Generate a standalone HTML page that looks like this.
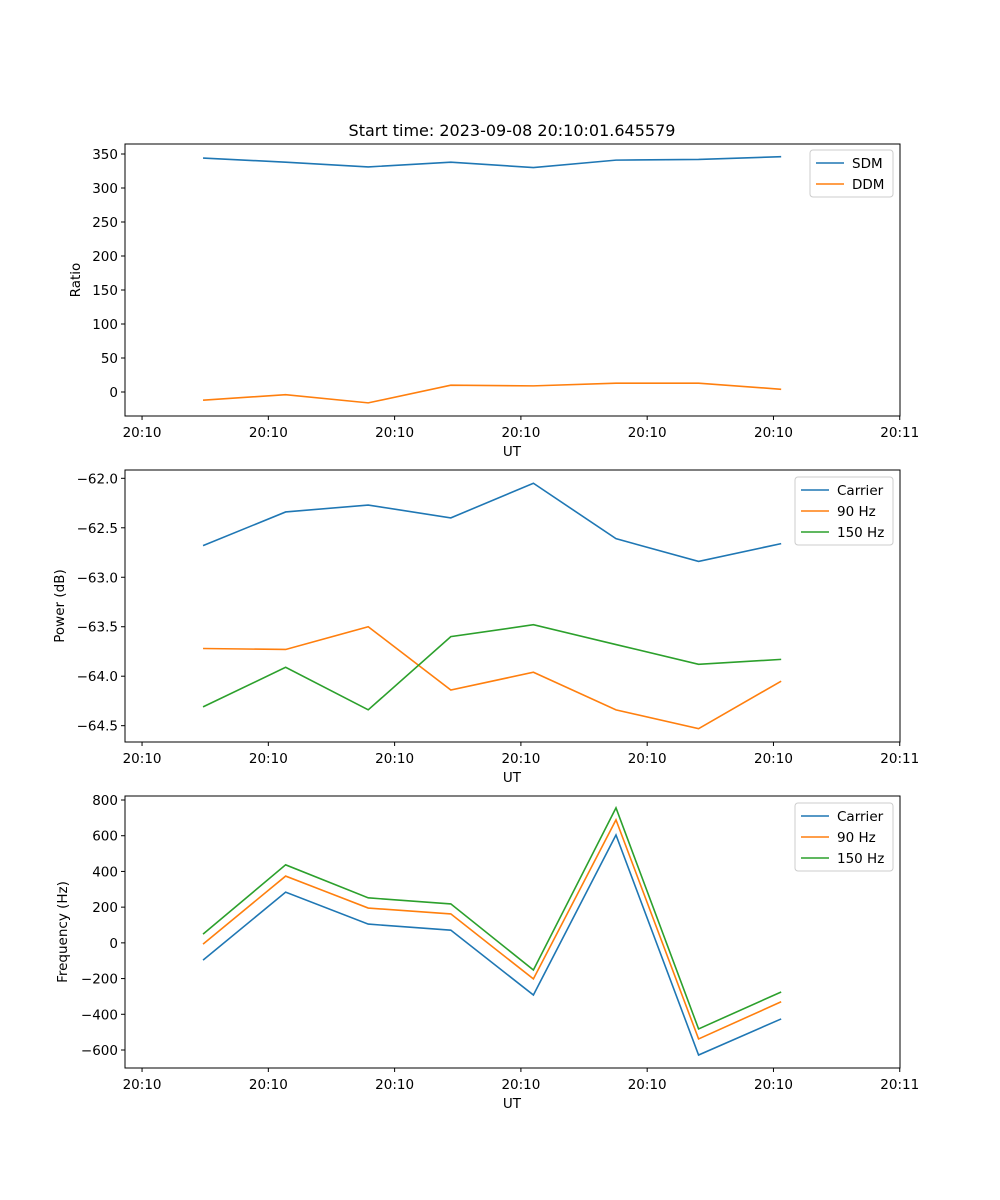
<!DOCTYPE html>
<html><head><meta charset="utf-8"><style>
body{margin:0;background:#fff}
svg{display:block;font-family:"DejaVu Sans","Liberation Sans",sans-serif}
</style></head><body>
<svg id="fig" width="1000" height="1200" viewBox="0 0 1000 1200">
<rect width="1000" height="1200" fill="#fff"/>
<text x="512" y="136" text-anchor="middle" font-size="16">Start time: 2023-09-08 20:10:01.645579</text>
</svg>
<script>
const times=[4.83,11.37,17.91,24.45,30.99,37.53,44.07,50.61];
const xTicks=[0,10,20,30,40,50,60];
const xTickLabels=["20:10","20:10","20:10","20:10","20:10","20:10","20:11"];
const sdm=[344,338,331,338,330,341,342,346];
const ddm=[-12,-4,-16,10,9,13,13,4];
const ratioTicks=[0,50,100,150,200,250,300,350];
const powCarrier=[-62.68,-62.34,-62.27,-62.40,-62.05,-62.61,-62.84,-62.66];
const pow90=[-63.72,-63.73,-63.50,-64.14,-63.96,-64.34,-64.53,-64.05];
const pow150=[-64.31,-63.91,-64.34,-63.60,-63.48,-63.68,-63.88,-63.83];
const powTicks=[-64.5,-64.0,-63.5,-63.0,-62.5,-62.0];
const freqCarrier=[-97,284,105,71,-292,604,-628,-426];
const freq90=[-7,374,195,162,-202,689,-538,-330];
const freq150=[49,437,252,218,-152,756,-482,-275];
const freqTicks=[-600,-400,-200,0,200,400,600,800];

const NS="http://www.w3.org/2000/svg";
const svg=document.getElementById('fig');
const L=125,R=900,X0=-1.35,X1=60.02;
function xs(t){return L+(t-X0)/(X1-X0)*(R-L);}
function mk(tag,attrs,parent){const e=document.createElementNS(NS,tag);for(const k in attrs)e.setAttribute(k,attrs[k]);(parent||svg).appendChild(e);return e;}
const C=["#1f77b4","#ff7f0e","#2ca02c"];

function panel(name,top,bot,y0,y1,ticks,fmt,ylabel,ylx,series,names,legend){
  const g=mk('g',{});
  
  
  const ys=v=>bot-(v-y0)/(y1-y0)*(bot-top);
  ticks.forEach(v=>{const y=ys(v);
    mk('line',{x1:L-4,x2:L,y1:y,y2:y,stroke:'#000','stroke-width':1},g);
    const t=mk('text',{x:L-7,y:y+5,'text-anchor':'end','font-size':13.5},g);t.textContent=fmt(v);
    
    
  });
  xTicks.forEach((v,i)=>{const x=xs(v);
    mk('line',{x1:x,x2:x,y1:bot,y2:bot+4,stroke:'#000','stroke-width':1},g);
    const t=mk('text',{x:x,y:bot+21,'text-anchor':'middle','font-size':13.5},g);t.textContent=xTickLabels[i];
    
    
  });
  const xl=mk('text',{x:512,y:bot+40,'text-anchor':'middle','font-size':13.5},g);xl.textContent='UT';
  
  
  const yc=(top+bot)/2;
  const yl=mk('text',{x:ylx,y:yc,'text-anchor':'middle','font-size':13.5,transform:`rotate(-90 ${ylx} ${yc})`},g);yl.textContent=ylabel;
  
  
  series.forEach((s,i)=>{
    const p=mk('polyline',{points:s.map((v,j)=>xs(times[j])+','+ys(v)).join(' '),fill:'none',stroke:C[i],'stroke-width':1.6},g);
    
    
  });
  mk('rect',{x:L,y:top,width:R-L,height:bot-top,fill:'none',stroke:'#000','stroke-width':1},g);
  const lg=mk('g',{},g);
  
  
  mk('rect',{x:legend[0],y:legend[1],width:R-7-legend[0],height:names.length*21+5,rx:3,fill:'#fff',stroke:'#ccc'},lg);
  names.forEach((n,i)=>{const y=legend[1]+13+i*21;
    mk('line',{x1:legend[0]+6,x2:legend[0]+34,y1:y,y2:y,stroke:C[i],'stroke-width':1.6},lg);
    const t=mk('text',{x:legend[0]+42,y:y+5,'font-size':13.5},lg);t.textContent=n;
    
    
  });
}
const m=v=>(v<0?'\u2212':'')+Math.abs(v);
panel('ratio',144,416,-35.3,364.7,ratioTicks,m,'Ratio',80,[sdm,ddm],['SDM','DDM'],[810,150]);
panel('power',470,742,-64.665,-61.916,powTicks,v=>'\u2212'+Math.abs(v).toFixed(1),'Power (dB)',64,[powCarrier,pow90,pow150],['Carrier','90 Hz','150 Hz'],[795,477]);
panel('frequency',796,1068,-700.8,822.4,freqTicks,m,'Frequency (Hz)',67,[freqCarrier,freq90,freq150],['Carrier','90 Hz','150 Hz'],[795,803]);
</script>
</body></html>
